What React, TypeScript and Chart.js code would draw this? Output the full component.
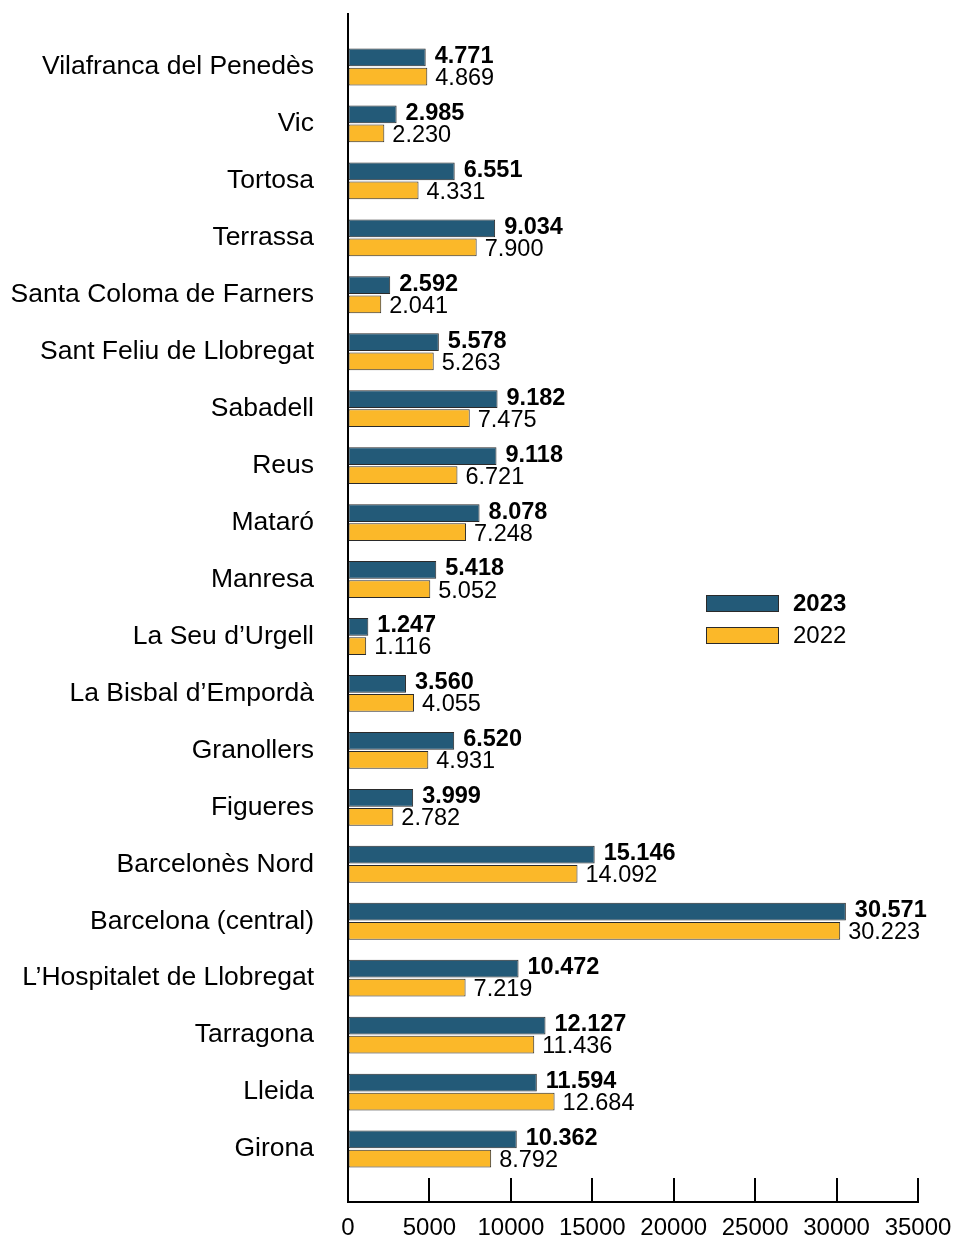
import React, { useEffect, useRef } from "react";
import { Chart, registerables } from "chart.js";

Chart.register(...registerables);

const categories = [
  "Vilafranca del Penedès",
  "Vic",
  "Tortosa",
  "Terrassa",
  "Santa Coloma de Farners",
  "Sant Feliu de Llobregat",
  "Sabadell",
  "Reus",
  "Mataró",
  "Manresa",
  "La Seu d’Urgell",
  "La Bisbal d’Empordà",
  "Granollers",
  "Figueres",
  "Barcelonès Nord",
  "Barcelona (central)",
  "L’Hospitalet de Llobregat",
  "Tarragona",
  "Lleida",
  "Girona",
];

const values2023 = [4771, 2985, 6551, 9034, 2592, 5578, 9182, 9118, 8078, 5418, 1247, 3560, 6520, 3999, 15146, 30571, 10472, 12127, 11594, 10362];
const values2022 = [4869, 2230, 4331, 7900, 2041, 5263, 7475, 6721, 7248, 5052, 1116, 4055, 4931, 2782, 14092, 30223, 7219, 11436, 12684, 8792];

const seriesNames = ["2023", "2022"];
const xTicks = [0, 5000, 10000, 15000, 20000, 25000, 30000, 35000];

const BLUE = "#235A78";
const YELLOW = "#FBB829";
const EDGE = "#2a2a2a";
const FONT = "'Liberation Sans', Arial, Helvetica, sans-serif";

const fmt = (v: number) =>
  v >= 1000 ? Math.floor(v / 1000) + "." + String(v % 1000).padStart(3, "0") : String(v);

const labelPlugin = {
  id: "valueLabels",
  afterDatasetsDraw(chart: any) {
    const ctx = chart.ctx;
    ctx.save();
    ctx.textBaseline = "middle";
    ctx.textAlign = "left";
    ctx.fillStyle = "#000";
    chart.data.datasets.forEach((ds: any, di: number) => {
      const meta = chart.getDatasetMeta(di);
      ctx.font = (di === 0 ? "bold " : "") + "23.5px " + FONT;
      meta.data.forEach((bar: any, i: number) => {
        const v = ds.data[i].x;
        ctx.fillText(fmt(v), bar.x + (di === 0 ? 9 : 8), bar.y + (di === 0 ? -1 : 2));
      });
    });
    ctx.restore();
  },
  afterDraw(chart: any) {
    const ctx = chart.ctx;
    const xs = chart.scales.x;
    const area = chart.chartArea;
    ctx.save();
    ctx.strokeStyle = "#000";
    ctx.lineWidth = 2;
    xTicks.forEach((t) => {
      if (t === 0) return;
      const px = Math.round(xs.getPixelForValue(t));
      ctx.beginPath();
      ctx.moveTo(px, area.bottom);
      ctx.lineTo(px, area.bottom - 24);
      ctx.stroke();
    });
    const items = [
      { name: seriesNames[0], color: BLUE, bold: true, y: 595 },
      { name: seriesNames[1], color: YELLOW, bold: false, y: 627 },
    ];
    items.forEach((it) => {
      ctx.fillStyle = it.color;
      ctx.fillRect(706, it.y, 73, 17);
      ctx.strokeStyle = EDGE;
      ctx.lineWidth = 1;
      ctx.strokeRect(706.5, it.y + 0.5, 72, 16);
      ctx.fillStyle = "#000";
      ctx.font = (it.bold ? "bold " : "") + "24px " + FONT;
      ctx.textAlign = "left";
      ctx.textBaseline = "middle";
      ctx.fillText(it.name, 793, it.y + 9);
    });
    ctx.restore();
  },
};

export default function App() {
  const ref = useRef<HTMLCanvasElement | null>(null);

  useEffect(() => {
    document.body.style.margin = "0";
    if (!ref.current) return;
    const chart = new Chart(ref.current, {
      type: "bar",
      data: {
        datasets: [
          {
            label: seriesNames[0],
            data: values2023.map((v, i) => ({ x: v, y: i })),
            backgroundColor: BLUE,
            borderColor: EDGE,
            borderWidth: 1,
            borderSkipped: false,
            categoryPercentage: 0.67,
            barPercentage: 0.93,
          },
          {
            label: seriesNames[1],
            data: values2022.map((v, i) => ({ x: v, y: i })),
            backgroundColor: YELLOW,
            borderColor: EDGE,
            borderWidth: 1,
            borderSkipped: false,
            categoryPercentage: 0.67,
            barPercentage: 0.93,
          },
        ],
      },
      options: {
        indexAxis: "y",
        animation: false,
        responsive: false,
        maintainAspectRatio: false,
        layout: { padding: { top: 14, right: 37, left: 0, bottom: 0 } },
        plugins: {
          legend: { display: false },
          tooltip: { enabled: false },
        },
        scales: {
          x: {
            type: "linear",
            position: "bottom",
            min: 0,
            max: 35000,
            offset: false,
            afterBuildTicks: (scale: any) => {
              scale.ticks = xTicks.map((v) => ({ value: v }));
            },
            afterFit: (scale: any) => {
              scale.height = 36;
              scale.paddingLeft = 0;
              scale.paddingRight = 0;
            },
            grid: { display: true, drawOnChartArea: false, drawTicks: false },
            border: { display: true, color: "#000", width: 2 },
            ticks: {
              color: "#000",
              font: { family: FONT, size: 24 },
              padding: 12,
              maxRotation: 0,
              autoSkip: false,
              callback: (v: any) => String(v),
            },
          },
          y: {
            type: "linear",
            position: "left",
            reverse: true,
            offset: false,
            min: -0.93,
            max: 19.93,
            afterBuildTicks: (scale: any) => {
              scale.ticks = categories.map((_, i) => ({ value: i }));
            },
            afterFit: (scale: any) => {
              scale.width = 348;
              scale.paddingTop = 0;
              scale.paddingBottom = 0;
            },
            grid: { display: true, drawOnChartArea: false, drawTicks: false },
            border: { display: true, color: "#000", width: 2 },
            ticks: {
              color: "#000",
              font: { family: FONT, size: 26.5 },
              padding: 34,
              autoSkip: false,
              callback: (v: any) => categories[v] ?? "",
            },
          },
        },
      } as any,
      plugins: [labelPlugin],
    });
    return () => chart.destroy();
  }, []);

  return <canvas ref={ref} width={955} height={1238} style={{ display: "block" }} />;
}
